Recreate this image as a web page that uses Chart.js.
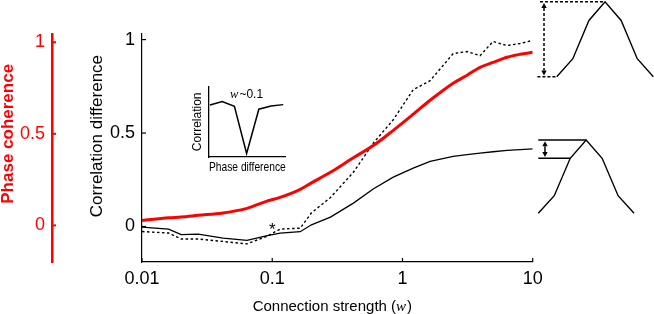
<!DOCTYPE html>
<html>
<head>
<meta charset="utf-8">
<script src="https://cdn.jsdelivr.net/npm/chart.js@4.4.0/dist/chart.umd.min.js"></script>
<style>
body{margin:0;background:#fff}
#wrap{position:relative;width:654px;height:314px;overflow:hidden}
canvas{position:absolute}
</style>
</head>
<body>
<div id="wrap">
<canvas id="main" width="654" height="314" style="left:0;top:0"></canvas>
<canvas id="inset" width="115" height="95" style="left:180px;top:80px"></canvas>
<canvas id="peakTop" width="124" height="80" style="left:530px;top:0"></canvas>
<canvas id="peakBottom" width="124" height="90" style="left:530px;top:130px"></canvas>
</div>
<script>
// DATA
const strength   = [0.01,0.016,0.02,0.027,0.042,0.064,0.09,0.115,0.164,0.2,0.28,0.42,0.6,0.85,1.21,1.63,2.45,3.14,3.94,4.96,6.36,8,10];
const corrSolid  = [-0.003,-0.014,-0.044,-0.041,-0.062,-0.074,-0.05,-0.035,-0.028,0.009,0.05,0.125,0.202,0.264,0.312,0.348,0.375,0.384,0.393,0.4,0.407,0.411,0.415];
const corrDotted = [-0.027,-0.035,-0.067,-0.067,-0.08,-0.093,-0.054,-0.014,-0.009,0.073,0.155,0.29,0.448,0.571,0.732,0.78,0.925,0.936,0.914,0.99,0.968,0.979,0.996];
const phaseCoh   = [0.027,0.041,0.046,0.055,0.068,0.093,0.131,0.153,0.197,0.232,0.29,0.369,0.437,0.519,0.607,0.683,0.776,0.82,0.863,0.89,0.918,0.934,0.945];
const xTicks   = [0.01,0.1,1,10];
const yTicks   = [0,0.5,1];
const redTicks = [0,0.5,1];
const starPoint = {x:0.1, y:0};

// inset: correlation vs phase difference at w~0.1
const insetCorr = [0.74,0.79,0.72,0.05,0.68,0.725,0.745];
// sketch peaks on the right
const peakShape = [0,0.24,0.75,1,0.75,0.24,0];

const SANS = '"Liberation Sans", Arial, sans-serif';
const SERIF = '"Liberation Serif", "Times New Roman", serif';

function line(ctx,x1,y1,x2,y2){ctx.beginPath();ctx.moveTo(x1,y1);ctx.lineTo(x2,y2);ctx.stroke();}

// MAIN CHART
const mainDecor = {
  id:'mainDecor',
  afterDraw(chart){
    const {ctx} = chart;
    const {x, y, yRed} = chart.scales;
    ctx.save();
    // inward ticks
    ctx.strokeStyle='#000'; ctx.lineWidth=1.2;
    yTicks.forEach(v=>{const py=y.getPixelForValue(v); line(ctx,y.right,py,y.right+4,py);});
    xTicks.forEach(v=>{const px=x.getPixelForValue(v); line(ctx,px,x.top,px,x.top-4);});
    ctx.strokeStyle='red'; ctx.lineWidth=2;
    redTicks.forEach(v=>{const py=yRed.getPixelForValue(v); line(ctx,yRed.right,py,yRed.right+4,py);});

    // axis titles
    ctx.textAlign='center'; ctx.textBaseline='middle';
    ctx.save();
    ctx.translate(yRed.left+8, yRed.getPixelForValue(0.5));
    ctx.rotate(-Math.PI/2);
    ctx.fillStyle='red'; ctx.font='bold 17px '+SANS;
    ctx.fillText('Phase coherence',0,0);
    ctx.restore();
    ctx.save();
    ctx.translate(y.left+45, y.getPixelForValue(0.5)+3);
    ctx.rotate(-Math.PI/2);
    ctx.fillStyle='#000'; ctx.font='17px '+SANS;
    ctx.fillText('Correlation difference',0,0);
    ctx.restore();

    // x title with italic w
    const t1='Connection strength (', t2='w', t3=')';
    ctx.fillStyle='#000'; ctx.textAlign='left';
    ctx.font='15px '+SANS; const w1=ctx.measureText(t1).width, w3=ctx.measureText(t3).width;
    ctx.font='italic 15px '+SERIF; const w2=ctx.measureText(t2).width+1;
    let tx=(x.left+x.right)/2-5-(w1+w2+w3)/2; const ty=307;
    ctx.font='15px '+SANS; ctx.fillText(t1,tx,ty); tx+=w1;
    ctx.font='italic 15px '+SERIF; ctx.fillText(t2,tx,ty); tx+=w2;
    ctx.font='15px '+SANS; ctx.fillText(t3,tx,ty);

    // asterisk
    ctx.textAlign='center'; ctx.textBaseline='alphabetic';
    ctx.font='17px '+SANS;
    ctx.fillText('*', x.getPixelForValue(starPoint.x), y.getPixelForValue(starPoint.y)+9);
    ctx.restore();
  }
};

new Chart(document.getElementById('main'),{
  type:'line',
  data:{datasets:[
    {data:strength.map((w,i)=>({x:w,y:phaseCoh[i]})), yAxisID:'yRed', borderColor:'#ff0000', borderWidth:3, pointRadius:0, cubicInterpolationMode:'monotone'},
    {data:strength.map((w,i)=>({x:w,y:corrSolid[i]})), yAxisID:'y', borderColor:'#000', borderWidth:1.3, pointRadius:0},
    {data:strength.map((w,i)=>({x:w,y:corrDotted[i]})), yAxisID:'y', borderColor:'#000', borderWidth:1.4, borderDash:[2.5,2.5], pointRadius:0}
  ]},
  options:{
    responsive:false, animation:false, events:[],
    layout:{padding:{top:34,right:121.3,bottom:0,left:0}},
    plugins:{legend:{display:false},tooltip:{enabled:false}},
    scales:{
      x:{type:'logarithmic', position:'bottom', min:0.01, max:10,
        afterBuildTicks:s=>{s.ticks=xTicks.map(v=>({value:v}));},
        afterFit:s=>{s.height=52;},
        grid:{display:false,drawTicks:false},
        border:{display:true,color:'#000',width:1.2},
        ticks:{color:'#000',font:{family:SANS,size:18},padding:6,maxRotation:0,autoSkip:false,callback:v=>String(v)}},
      yRed:{position:'left', weight:1, min:-0.2, max:1.045,
        afterBuildTicks:s=>{s.ticks=redTicks.map(v=>({value:v}));},
        afterFit:s=>{s.width=52;},
        grid:{display:false,drawTicks:false},
        border:{display:true,color:'#ff0000',width:2.5},
        ticks:{color:'#ff0000',font:{family:SANS,size:18},padding:7,callback:v=>String(v)}},
      y:{position:'left', weight:0, min:-0.19, max:1.03,
        afterBuildTicks:s=>{s.ticks=yTicks.map(v=>({value:v}));},
        afterFit:s=>{s.width=90;},
        grid:{display:false,drawTicks:false},
        border:{display:true,color:'#000',width:1.2},
        ticks:{color:'#000',font:{family:SANS,size:18},padding:7,callback:v=>String(v)}}
    }
  },
  plugins:[mainDecor]
});

// INSET
const insetLabel = {
  id:'insetLabel',
  afterDraw(chart){
    const {ctx} = chart; const {x,y} = chart.scales;
    const px=x.getPixelForValue(3), py=y.getPixelForValue(0.88);
    ctx.save(); ctx.fillStyle='#000'; ctx.textBaseline='middle'; ctx.textAlign='left';
    ctx.font='italic 12.5px '+SERIF; const a=ctx.measureText('w').width+1;
    ctx.font='12px '+SANS; const b=ctx.measureText('~0.1').width;
    let tx=px-(a+b)/2;
    ctx.font='italic 12.5px '+SERIF; ctx.fillText('w',tx,py);
    ctx.font='12px '+SANS; ctx.fillText('~0.1',tx+a,py);
    ctx.restore();
  }
};

new Chart(document.getElementById('inset'),{
  type:'line',
  data:{datasets:[{data:insetCorr.map((v,i)=>({x:i,y:v})), borderColor:'#000', borderWidth:1.5, pointRadius:0}]},
  options:{
    responsive:false, animation:false, events:[],
    layout:{padding:{top:6.7,right:9.3,bottom:0,left:0}},
    plugins:{legend:{display:false},tooltip:{enabled:false}},
    scales:{
      x:{type:'linear', min:-0.08, max:6.2, afterFit:s=>{s.height=18;},
        grid:{display:false,drawTicks:false}, ticks:{display:false},
        border:{display:true,color:'#000',width:1.3},
        title:{display:true,text:'Phase difference',color:'#000',font:{family:SANS,size:12.8,lineHeight:1},padding:{top:0,bottom:1.6}}},
      y:{min:0, max:1, afterFit:s=>{s.width=29;},
        grid:{display:false,drawTicks:false}, ticks:{display:false},
        border:{display:true,color:'#000',width:1.3},
        title:{display:true,text:'Correlation',color:'#000',font:{family:SANS,size:12,lineHeight:1},padding:{top:12,bottom:0}}}
    }
  },
  plugins:[insetLabel]
});

// PEAK SKETCHES
function drawArrow(ctx,px,yTop,yBot,dashed){
  const h=5, w=2.7;
  ctx.save(); ctx.strokeStyle='#000'; ctx.fillStyle='#000'; ctx.lineWidth=1.5;
  if(dashed) ctx.setLineDash([3,2]);
  line(ctx,px,yTop+h,px,yBot-h);
  ctx.setLineDash([]);
  ctx.beginPath(); ctx.moveTo(px,yTop); ctx.lineTo(px-w,yTop+h); ctx.lineTo(px+w,yTop+h); ctx.closePath(); ctx.fill();
  ctx.beginPath(); ctx.moveTo(px,yBot); ctx.lineTo(px-w,yBot-h); ctx.lineTo(px+w,yBot-h); ctx.closePath(); ctx.fill();
  ctx.restore();
}

function peakChart(id, xr, yr, guides, arrow){
  const ds=[{data:peakShape.map((v,i)=>({x:i,y:v})), borderColor:'#000', borderWidth:1.4, pointRadius:0, clip:false}];
  guides.forEach(g=>ds.push({data:[{x:g.from,y:g.y},{x:g.to,y:g.y}], borderColor:'#000', borderWidth:g.dash?1.6:1.4, borderDash:g.dash?[3,2]:[], pointRadius:0, clip:false}));
  new Chart(document.getElementById(id),{
    type:'line',
    data:{datasets:ds},
    options:{
      responsive:false, animation:false, events:[],
      layout:{padding:0},
      plugins:{legend:{display:false},tooltip:{enabled:false}},
      scales:{
        x:{type:'linear', display:false, min:xr[0], max:xr[1]},
        y:{display:false, min:yr[0], max:yr[1]}
      }
    },
    plugins:[{id:'arrow',afterDraw(chart){
      const {x,y}=chart.scales;
      drawArrow(chart.ctx, x.getPixelForValue(arrow.x), y.getPixelForValue(arrow.hi)+1.3, y.getPixelForValue(arrow.lo)-1.3, arrow.dash);
    }}]
  });
}

peakChart('peakTop', [-1.66,6.04], [-0.044,1.023],
  [{from:-1.04,to:3,y:peakShape[3],dash:true},{from:-1.2,to:0,y:peakShape[0],dash:true}],
  {x:-0.79, lo:peakShape[0], hi:peakShape[3], dash:true});

peakChart('peakBottom', [-0.52,7.25], [-0.091,1.136],
  [{from:0,to:3,y:peakShape[3],dash:false},{from:0,to:2,y:peakShape[2],dash:false}],
  {x:0.42, lo:peakShape[2], hi:peakShape[3], dash:false});
</script>
</body>
</html>
